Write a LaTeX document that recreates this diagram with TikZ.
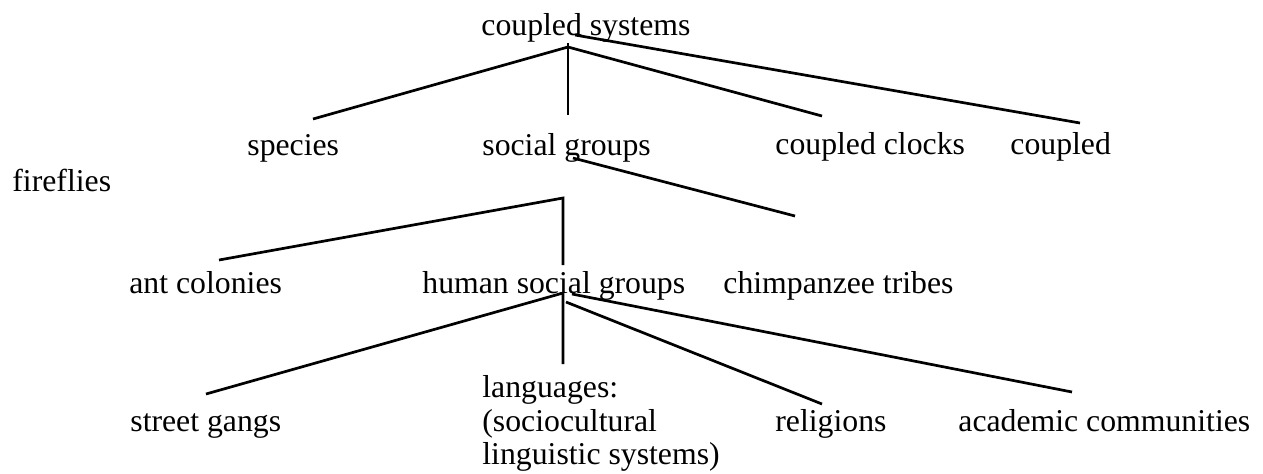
\documentclass[tikz,border=0pt]{standalone}
\usepackage{fontspec}
\setmainfont{Liberation Serif}
\begin{document}
\begin{tikzpicture}[x=0.5pt,y=-0.5pt,
  lbl/.style={anchor=base west,inner sep=0pt,font={\fontsize{15.875pt}{16.75pt}\selectfont}},
  edge/.style={line width=1.35pt,black}]
\useasboundingbox (0,0) rectangle (1263,473);

% labels
\node[lbl] (root) at (481,35) {coupled systems};
\node[lbl] (species) at (247,155) {species};
\node[lbl] (social) at (482,155) {social groups};
\node[lbl] (clocks) at (775,154) {coupled clocks};
\node[lbl] (cpl) at (1010,154) {coupled};
\node[lbl] (fireflies) at (12,191) {fireflies};
\node[lbl] (ants) at (129,293) {ant colonies};
\node[lbl] (human) at (422,293) {human social groups};
\node[lbl] (chimp) at (723,293) {chimpanzee tribes};
\node[lbl] (gangs) at (130,431) {street gangs};
\node[lbl,anchor=north west,align=left] (lang) at (482,375.3)
  {languages:\\(sociocultural\\linguistic systems)};
\node[lbl] (religions) at (775,431) {religions};
\node[lbl] (academic) at (958,431) {academic communities};

% junction and end points of the branches
\coordinate (j0) at (568,47);
\coordinate (j0top) at (568,43);
\coordinate (j0b) at (575,35);
\coordinate (e0s) at (313,119);
\coordinate (e0g) at (568,115);
\coordinate (e0c) at (822,116);
\coordinate (e0f) at (1080,123);

\coordinate (j1) at (563,198);
\coordinate (j1b) at (573,158);
\coordinate (e1a) at (219,260);
\coordinate (e1h) at (563,265);
\coordinate (e1c) at (795,216);

\coordinate (j2) at (563,293);
\coordinate (j2r) at (566,302);
\coordinate (j2a) at (572,294);
\coordinate (e2g) at (206,394);
\coordinate (e2l) at (563,364);
\coordinate (e2r) at (822,404);
\coordinate (e2a) at (1072,392);

% branches under "coupled systems"
\draw[edge] (e0s) -- (j0) -- (e0c);
\draw[edge] (j0top) -- (e0g);
\draw[edge] (j0b) -- (e0f);

% branches under "social groups"
\draw[edge] (e1a) -- (j1) -- (e1h);
\draw[edge] (j1b) -- (e1c);

% branches under "human social groups"
\draw[edge] (e2g) -- (j2) -- (e2l);
\draw[edge] (j2r) -- (e2r);
\draw[edge] (j2a) -- (e2a);
\end{tikzpicture}
\end{document}
